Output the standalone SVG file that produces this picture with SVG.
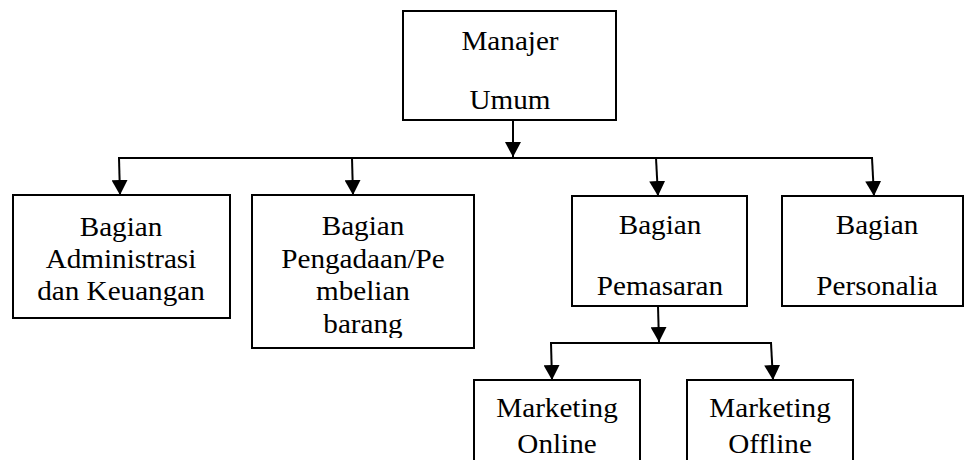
<svg xmlns="http://www.w3.org/2000/svg" width="965" height="460" viewBox="0 0 965 460">
<style>
.box{fill:#fff;stroke:#000;stroke-width:2}
.ln{fill:none;stroke:#000;stroke-width:2}
</style>
<defs>
<marker id="ah" markerWidth="16" markerHeight="16" refX="15" refY="8" orient="auto" markerUnits="userSpaceOnUse">
<path d="M0,0 L15,8 L0,16 Z" fill="#000"/>
</marker>
<clipPath id="c2"><rect x="252" y="195" width="222" height="143"/></clipPath>
</defs>
<g id="connectors">
<line class="ln" x1="513" y1="120" x2="513" y2="157" marker-end="url(#ah)"/>
<polyline class="ln" points="118,158 873,158"/>
<line class="ln" x1="119" y1="158" x2="120" y2="195" marker-end="url(#ah)"/>
<line class="ln" x1="352" y1="158" x2="353" y2="195" marker-end="url(#ah)"/>
<line class="ln" x1="656" y1="158" x2="658" y2="196" marker-end="url(#ah)"/>
<line class="ln" x1="872" y1="158" x2="874" y2="196" marker-end="url(#ah)"/>
<line class="ln" x1="658" y1="306" x2="659" y2="342" marker-end="url(#ah)"/>
<polyline class="ln" points="550,343 772,343"/>
<line class="ln" x1="551" y1="343" x2="552" y2="380" marker-end="url(#ah)"/>
<line class="ln" x1="771" y1="343" x2="773" y2="380" marker-end="url(#ah)"/>
</g>
<g font-family="'Liberation Serif', 'Times New Roman', Times, serif" font-size="27" text-anchor="middle" fill="#000">
<g id="manajer">
<rect class="box" x="403" y="11" width="213" height="109"/>
<text transform="translate(510,50) scale(1.08,1)">Manajer</text>
<text transform="translate(510,109) scale(1.08,1)">Umum</text>
</g>
<g id="administrasi">
<rect class="box" x="13" y="195" width="217" height="123"/>
<text transform="translate(121,236) scale(1.08,1)">Bagian</text>
<text transform="translate(121,268) scale(1.08,1)">Administrasi</text>
<text transform="translate(121,300) scale(1.08,1)">dan Keuangan</text>
</g>
<g id="pengadaan">
<rect class="box" x="252" y="195" width="222" height="153"/>
<g clip-path="url(#c2)">
<text transform="translate(363,235) scale(1.08,1)">Bagian</text>
<text transform="translate(363,268) scale(1.08,1)">Pengadaan/Pe</text>
<text transform="translate(363,300) scale(1.08,1)">mbelian</text>
<text transform="translate(363,333) scale(1.08,1)">barang</text>
</g>
</g>
<g id="pemasaran">
<rect class="box" x="572" y="196" width="175" height="110"/>
<text transform="translate(660,234) scale(1.08,1)">Bagian</text>
<text transform="translate(660,295) scale(1.08,1)">Pemasaran</text>
</g>
<g id="personalia">
<rect class="box" x="782" y="196" width="181" height="110"/>
<text transform="translate(877,234) scale(1.08,1)">Bagian</text>
<text transform="translate(877,295) scale(1.08,1)">Personalia</text>
</g>
<g id="online">
<rect class="box" x="474" y="380" width="166" height="90"/>
<text transform="translate(557,417) scale(1.08,1)">Marketing</text>
<text transform="translate(557,453) scale(1.08,1)">Online</text>
</g>
<g id="offline">
<rect class="box" x="687" y="380" width="166" height="90"/>
<text transform="translate(770,417) scale(1.08,1)">Marketing</text>
<text transform="translate(770,453) scale(1.08,1)">Offline</text>
</g>
</g>
</svg>
